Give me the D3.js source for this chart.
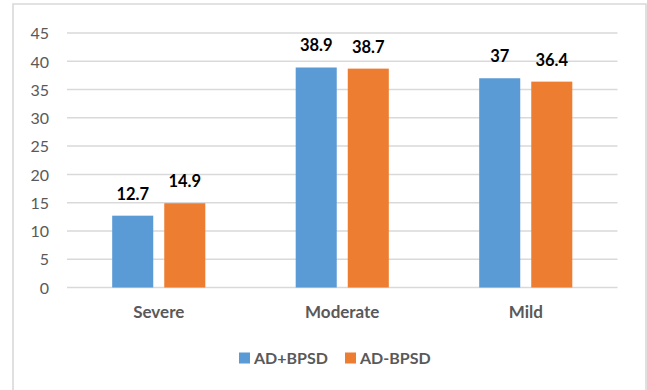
<!DOCTYPE html>
<html>
<head>
<meta charset="utf-8">
<script src="https://cdn.jsdelivr.net/npm/d3@7"></script>
<style>
  html, body { margin: 0; padding: 0; background: #fff; }
  svg { display: block; }
</style>
</head>
<body>
<svg id="chart" width="647" height="390"></svg>
<script>
const categories = ["Severe", "Moderate", "Mild"];
const seriesNames = ["AD+BPSD", "AD-BPSD"];
const adPlusBPSD = [12.7, 38.9, 37];
const adMinusBPSD = [14.9, 38.7, 36.4];
const yTicks = [0, 5, 10, 15, 20, 25, 30, 35, 40, 45];
const colors = ["#5B9BD5", "#ED7D31"];

const seriesValues = [adPlusBPSD, adMinusBPSD];
const svg = d3.select("#chart");
const font = "Lato, 'DejaVu Sans', sans-serif";

// chart border (left, top, right)
svg.append("path")
  .attr("d", "M13,395 L13,4 L646,4 L646,395")
  .attr("fill", "none")
  .attr("stroke", "#d9d9d9")
  .attr("stroke-width", 1.6);

const plotLeft = 67, plotRight = 617.5, plotTop = 33, plotBottom = 287.5;

const y = d3.scaleLinear().domain([0, 45]).range([plotBottom, plotTop]);
const x0 = d3.scaleBand().domain(categories).range([plotLeft, plotRight]).padding(0);
const x1 = d3.scaleBand().domain(seriesNames).range([0, x0.bandwidth()])
  .paddingInner(0.2115).paddingOuter(0.868);

// gridlines
svg.append("g").selectAll("line").data(yTicks).join("line")
  .attr("x1", plotLeft).attr("x2", plotRight)
  .attr("y1", d => y(d)).attr("y2", d => y(d))
  .attr("stroke", "#d9d9d9").attr("stroke-width", 1.5);

// y axis labels
const yAxis = d3.axisLeft(y).tickValues(yTicks).tickSize(0).tickPadding(0);
const ya = svg.append("g").attr("transform", `translate(49,0)`).call(yAxis);
ya.select(".domain").remove();
ya.selectAll("text")
  .attr("font-family", font).attr("font-size", 16).attr("fill", "#595959")
  .attr("dy", "0.36em");

// bars
const rows = [];
categories.forEach((c, i) => seriesNames.forEach((s, j) => rows.push({c, s, j, v: seriesValues[j][i]})));

svg.append("g").selectAll("rect").data(rows).join("rect")
  .attr("x", d => x0(d.c) + x1(d.s))
  .attr("y", d => y(d.v))
  .attr("width", x1.bandwidth())
  .attr("height", d => y(0) - y(d.v))
  .attr("fill", d => colors[d.j]);

// data labels
svg.append("g").selectAll("text").data(rows).join("text")
  .attr("x", d => x0(d.c) + x1(d.s) + x1.bandwidth() / 2)
  .attr("y", d => y(d.v) - 16)
  .attr("text-anchor", "middle")
  .attr("font-family", font).attr("font-size", 16.5).attr("font-weight", "bold")
  .attr("fill", "#000")
  .text(d => d.v);

// x axis labels
const xAxis = d3.axisBottom(x0).tickSize(0).tickPadding(0);
const xa = svg.append("g").attr("transform", `translate(0,${plotBottom})`).call(xAxis);
xa.select(".domain").remove();
xa.selectAll("text")
  .attr("font-family", font).attr("font-size", 17).attr("font-weight", "bold")
  .attr("fill", "#595959")
  .attr("dy", null)
  .attr("y", 30);

// legend
const legendX = [239, 345];
const lg = svg.append("g").selectAll("g").data(seriesNames).join("g")
  .attr("transform", (d, i) => `translate(${legendX[i]},352.5)`);
lg.append("rect").attr("width", 11).attr("height", 11).attr("fill", (d, i) => colors[i]);
lg.append("text").attr("x", 15).attr("y", 11)
  .attr("font-family", font).attr("font-size", 16).attr("font-weight", "bold")
  .attr("fill", "#595959").text(d => d);
</script>
</body>
</html>
